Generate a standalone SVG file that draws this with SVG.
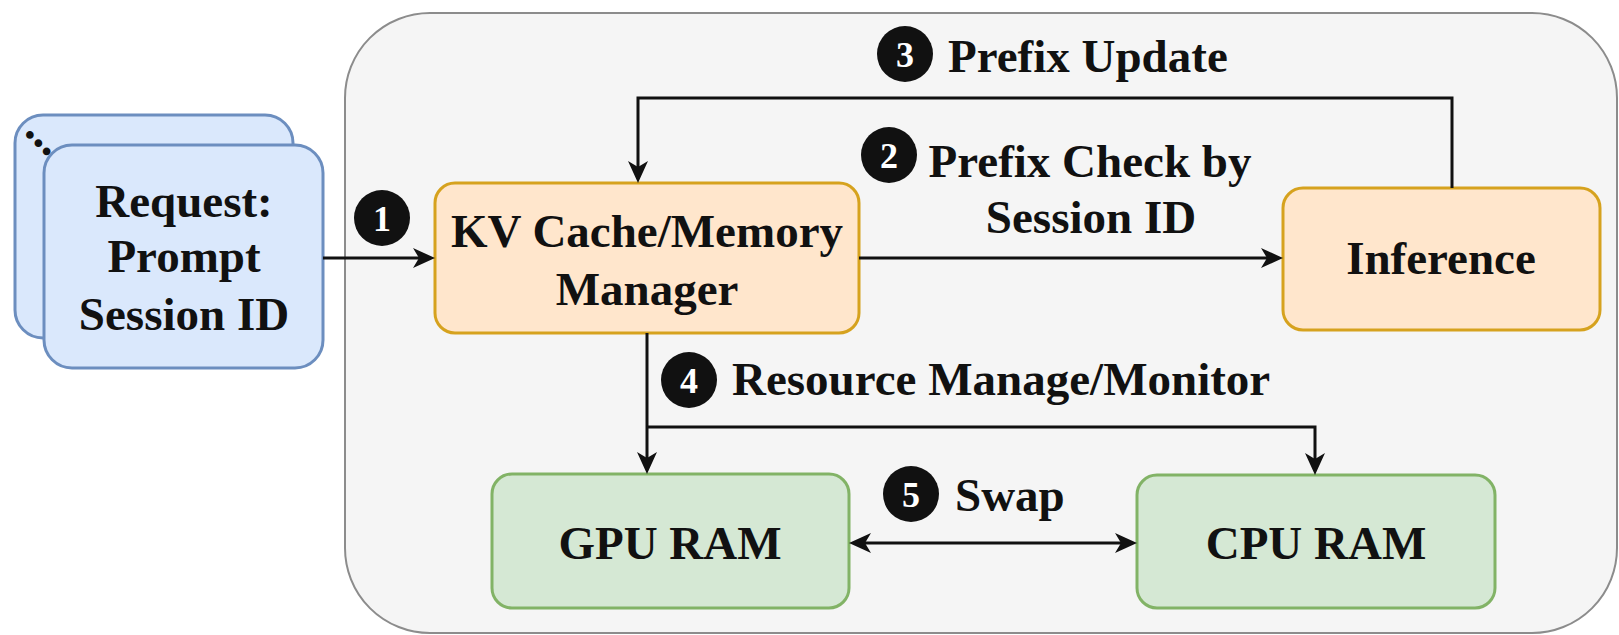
<svg xmlns="http://www.w3.org/2000/svg" width="1619" height="635" viewBox="0 0 1619 635">
<style>
.lbl{font-family:"Liberation Serif","Times New Roman",serif;font-weight:bold;font-size:47px;fill:#111}
.mid{text-anchor:middle}
.num{font-family:"Liberation Serif","Times New Roman",serif;font-weight:bold;font-size:36px;fill:#fff;text-anchor:middle}
.blue{fill:#dae8fc;stroke:#6c8ebf;stroke-width:3}
.orange{fill:#ffe6cc;stroke:#d6a21e;stroke-width:3}
.green{fill:#d5e8d4;stroke:#82b366;stroke-width:3}
.conn{fill:none;stroke:#111;stroke-width:3}
</style>
<defs>
<marker id="arr" markerUnits="userSpaceOnUse" markerWidth="22" markerHeight="22" viewBox="0 0 22 22" refX="16" refY="11" orient="auto-start-reverse">
<path d="M0,1 L22,11 L0,21 L6,11 Z" fill="#111"/>
</marker>
</defs>
<g id="container">
<rect x="345" y="13" width="1272" height="620" rx="85" ry="85" fill="#f5f5f5" stroke="#8c8c8c" stroke-width="2"/>
</g>
<g id="request">
<rect class="blue" x="15" y="115" width="278" height="223" rx="28" ry="28"/>
<text class="lbl" x="23.6" y="133" transform="rotate(45 23.6 133)">...</text>
<rect class="blue" x="44" y="145" width="279" height="223" rx="28" ry="28"/>
<text class="lbl mid" x="184" y="217">Request:</text>
<text class="lbl mid" x="184" y="272">Prompt</text>
<text class="lbl mid" x="184" y="330">Session ID</text>
</g>
<g id="kv-manager">
<rect class="orange" x="435" y="183" width="424" height="150" rx="20" ry="20"/>
<text class="lbl mid" x="647" y="247">KV Cache/Memory</text>
<text class="lbl mid" x="647" y="305">Manager</text>
</g>
<g id="inference">
<rect class="orange" x="1283" y="188" width="317" height="142" rx="20" ry="20"/>
<text class="lbl mid" x="1441" y="274">Inference</text>
</g>
<g id="gpu-ram">
<rect class="green" x="492" y="474" width="357" height="134" rx="20" ry="20"/>
<text class="lbl mid" x="670" y="559">GPU RAM</text>
</g>
<g id="cpu-ram">
<rect class="green" x="1137" y="475" width="358" height="133" rx="20" ry="20"/>
<text class="lbl mid" x="1316" y="559">CPU RAM</text>
</g>
<g id="connectors">
<path class="conn" d="M323,258 H429" marker-end="url(#arr)"/>
<path class="conn" d="M859,258 H1277" marker-end="url(#arr)"/>
<path class="conn" d="M1452,188 V98 H638 V177" marker-end="url(#arr)"/>
<path class="conn" d="M647,333 V468" marker-end="url(#arr)"/>
<path class="conn" d="M647,427 H1315 V469" marker-end="url(#arr)"/>
<path class="conn" d="M855,543 H1131" marker-start="url(#arr)" marker-end="url(#arr)"/>
</g>
<g id="labels">
<circle cx="382" cy="218" r="28" fill="#111"/>
<text class="num" x="382" y="231">1</text>
<circle cx="889" cy="155" r="28" fill="#111"/>
<text class="num" x="889" y="168">2</text>
<text class="lbl mid" x="1090" y="177">Prefix Check by</text>
<text class="lbl mid" x="1091" y="233">Session ID</text>
<circle cx="905" cy="54" r="28" fill="#111"/>
<text class="num" x="905" y="67">3</text>
<text class="lbl" x="948" y="72">Prefix Update</text>
<circle cx="689" cy="380" r="28" fill="#111"/>
<text class="num" x="689" y="393">4</text>
<text class="lbl" x="732" y="395">Resource Manage/Monitor</text>
<circle cx="911" cy="494" r="28" fill="#111"/>
<text class="num" x="911" y="507">5</text>
<text class="lbl" x="955" y="511">Swap</text>
</g>
</svg>
